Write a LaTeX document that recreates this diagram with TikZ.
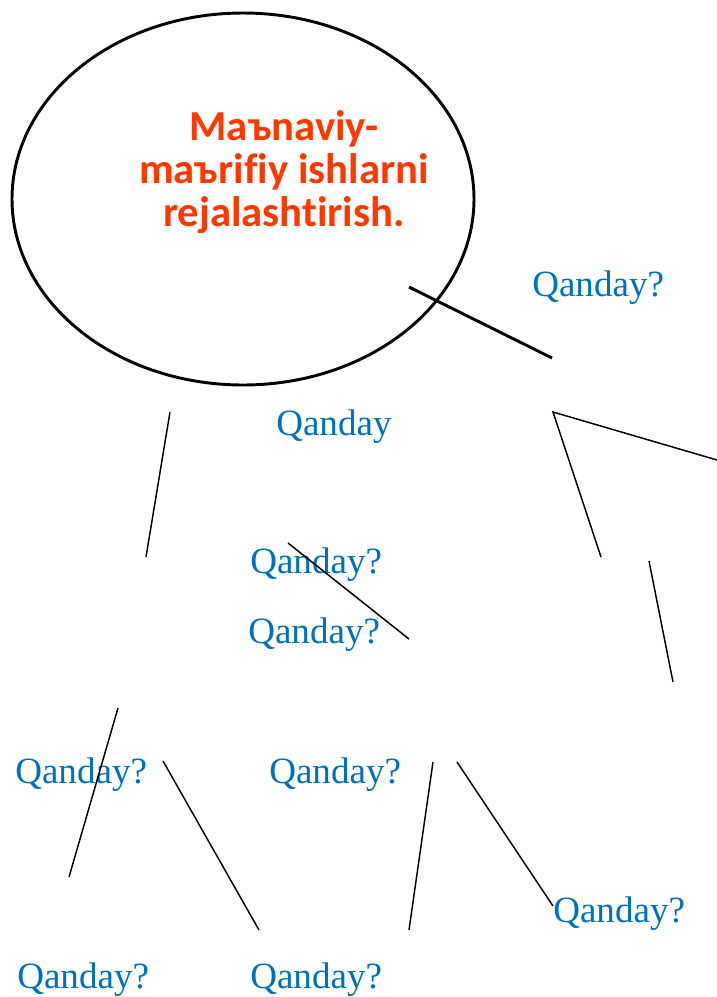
\documentclass[tikz,border=0pt]{standalone}
\usepackage{fontspec}
\setmainfont{Liberation Serif}
\newfontfamily\titlefont[Ligatures=NoCommon]{Carlito}
\usepackage{tikz}
\usetikzlibrary{shapes.geometric}
\definecolor{qblue}{RGB}{0,112,192}
\definecolor{qred}{RGB}{255,56,0}
\tikzset{%
  q/.style = {text=qblue,inner sep=0pt,anchor=base west,
        font=\fontsize{27.8}{30}\selectfont},
  thinline/.style = {line width=1.1pt},
  thickline/.style = {line width=2.2pt}
}

\begin{document}
\begin{tikzpicture}[x=0.75pt,y=-0.75pt]
                \useasboundingbox (0,0) rectangle (717,997);
                % main ellipse
                \node[draw,thickline,ellipse,minimum width=462*0.75pt,minimum height=372*0.75pt,inner sep=0pt] (main) at (243,199) {};
                \node[text=qred,inner sep=0pt,anchor=north,align=center,
                      font=\titlefont\bfseries\fontsize{32}{32.3}\selectfont] (title) at (284,110) {Maъnaviy-\\maъrifiy ishlarni\\rejalashtirish.};
                % labels
                \node[q] (q1) at (532,296) {Qanday?};
                \node[q] (q2) at (276,435) {Qanday};
                \node[q] (q3) at (250,573) {Qanday?};
                \node[q] (q4) at (248,643) {Qanday?};
                \node[q] (q5) at (15,783) {Qanday?};
                \node[q] (q6) at (269,783) {Qanday?};
                \node[q] (q7) at (553,922) {Qanday?};
                \node[q] (q8) at (17,988) {Qanday?};
                \node[q] (q9) at (250,988) {Qanday?};
                % line ends
                \coordinate (a1) at (409,287);  \coordinate (a2) at (552,358);
                \coordinate (b1) at (170,412);  \coordinate (b2) at (146,557);
                \coordinate (c0) at (553,412);  \coordinate (c1) at (717,460);
                \coordinate (c2) at (601,557);
                \coordinate (d1) at (649,561);  \coordinate (d2) at (673,682);
                \coordinate (e1) at (288,543);  \coordinate (e2) at (409,639);
                \coordinate (f1) at (118,708);  \coordinate (f2) at (69,877);
                \coordinate (g1) at (163,761);  \coordinate (g2) at (259,930);
                \coordinate (h1) at (433,762);  \coordinate (h2) at (409,930);
                \coordinate (k1) at (457,762);  \coordinate (k2) at (553,906);
                \draw[thickline] (a1) -- (a2);
                \draw[thinline] (b1) -- (b2);
                \draw[thinline] (c1) -- (c0) -- (c2);
                \draw[thinline] (d1) -- (d2);
                \draw[thinline] (e1) -- (e2);
                \draw[thinline] (f1) -- (f2);
                \draw[thinline] (g1) -- (g2);
                \draw[thinline] (h1) -- (h2);
                \draw[thinline] (k1) -- (k2);
            \end{tikzpicture}
\end{document}
